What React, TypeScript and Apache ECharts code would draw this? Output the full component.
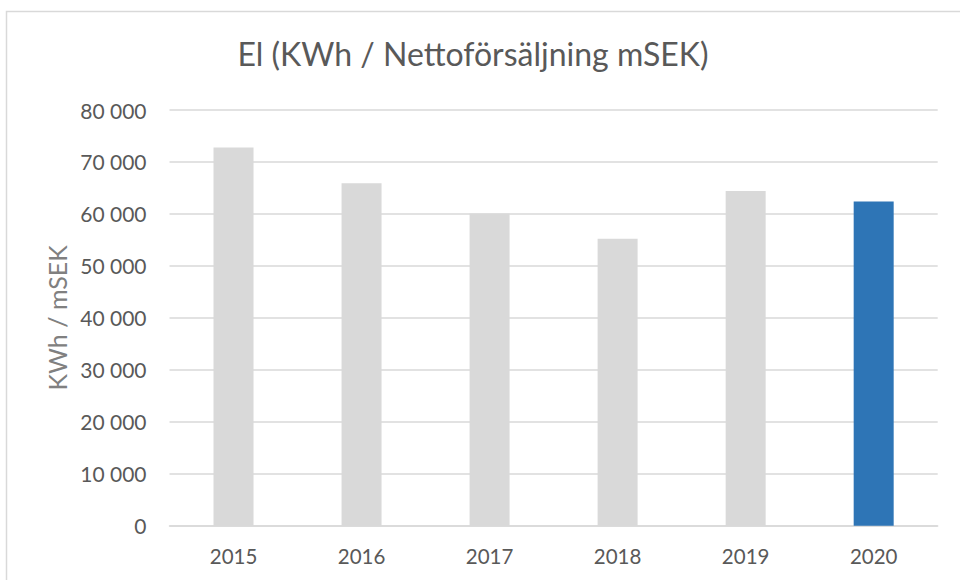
import React, { useEffect, useRef } from "react";
import * as echarts from "echarts";

const categories = ["2015", "2016", "2017", "2018", "2019", "2020"];
const values = [72800, 65900, 60100, 55200, 64400, 62400];
const barColors = ["#d9d9d9", "#d9d9d9", "#d9d9d9", "#d9d9d9", "#d9d9d9", "#2e75b6"];
const titleText = "El (KWh / Nettoförsäljning mSEK)";
const yAxisName = "KWh / mSEK";

const FONT = "Lato, 'Open Sans', sans-serif";

export default function App() {
  const ref = useRef<HTMLDivElement>(null);
  useEffect(() => {
    document.body.style.margin = "0";
    if (!ref.current) return;
    const chart = echarts.init(ref.current, undefined, { renderer: "svg" });
    chart.setOption({
      animation: false,
      backgroundColor: "#ffffff",
      textStyle: { fontFamily: FONT },
      title: {
        text: titleText,
        left: 468,
        textAlign: "center",
        top: 32,
        textStyle: { fontFamily: FONT, fontSize: 32, fontWeight: "normal", color: "#595959" },
      },
      graphic: [
        {
          type: "rect",
          shape: { x: 6.5, y: 11.5, width: 1000, height: 1000 },
          style: { fill: "none", stroke: "#d9d9d9", lineWidth: 1.5 },
          silent: true,
        },
      ],
      grid: { left: 169.5, right: 22.3, top: 110, bottom: 54.3, containLabel: false },
      xAxis: {
        type: "category",
        data: categories,
        axisLine: { show: true, lineStyle: { color: "#d9d9d9", width: 1.5 } },
        axisTick: { show: false },
        axisLabel: { color: "#595959", fontSize: 20.5, fontFamily: FONT, margin: 20 },
      },
      yAxis: {
        type: "value",
        min: 0,
        max: 80000,
        interval: 10000,
        name: yAxisName,
        nameLocation: "middle",
        nameGap: 100,
        nameTextStyle: { color: "#808080", fontSize: 25, fontFamily: FONT },
        axisLine: { show: false },
        axisTick: { show: false },
        splitLine: { lineStyle: { color: "#d9d9d9", width: 1.5 } },
        axisLabel: {
          color: "#595959",
          fontSize: 21,
          fontFamily: FONT,
          margin: 23,
          formatter: (v: number) => {
            const s = String(Math.round(v));
            return s.replace(/\B(?=(\d{3})+(?!\d))/g, " ");
          },
        },
      },
      series: [
        {
          type: "bar",
          barWidth: 40,
          data: values.map((v, i) => ({ value: v, itemStyle: { color: barColors[i] } })),
        },
      ],
    });
    return () => chart.dispose();
  }, []);
  return <div ref={ref} style={{ width: 960, height: 580 }} />;
}
